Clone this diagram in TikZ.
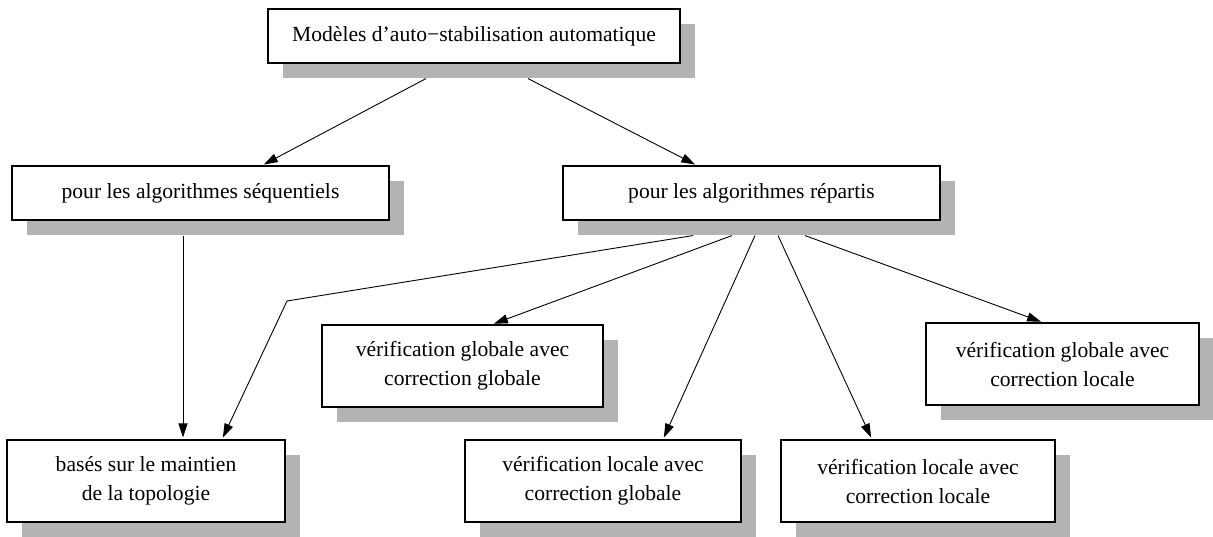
\documentclass[tikz,border=0pt]{standalone}
\usepackage{fontspec}
\setmainfont{Liberation Serif}
\usetikzlibrary{arrows.meta,calc,shadows}
\definecolor{shadowgray}{RGB}{179,179,179}
\begin{document}
\begin{tikzpicture}[x=1pt,y=-1pt,
  box/.style={draw, fill=white, line width=1.1pt, inner sep=0pt, align=center,
    font=\fontsize{21.6}{29}\selectfont,
    drop shadow={shadow xshift=15pt, shadow yshift=-15pt, fill=shadowgray, opacity=1}},
  link/.style={line width=0.9pt, -{Triangle[length=14pt,width=9pt]}, shorten >=2pt}]
\useasboundingbox (0,0) rectangle (1213,536);

% boxes
\node[box, minimum width=412pt, minimum height=54pt] (top) at (474,36)
  {Modèles d’auto−stabilisation automatique};
\node[box, minimum width=377pt, minimum height=54pt] (seq) at (200.5,193)
  {pour les algorithmes séquentiels};
\node[box, minimum width=377pt, minimum height=54pt] (rep) at (751.5,193)
  {pour les algorithmes répartis};
\node[box, minimum width=278pt, minimum height=82pt] (bases) at (146,481)
  {basés sur le maintien\\de la topologie};
\node[box, minimum width=281pt, minimum height=82pt] (gg) at (462.5,366)
  {vérification globale avec\\correction globale};
\node[box, minimum width=276pt, minimum height=82pt] (lg) at (603,481)
  {vérification locale avec\\correction globale};
\node[box, minimum width=274pt, minimum height=82pt] (ll) at (918,481)
  {vérification locale avec\\correction locale};
\node[box, minimum width=273pt, minimum height=82pt] (gl) at (1062.5,364)
  {vérification globale avec\\correction locale};

% connectors
\coordinate (bend) at (287,301);
\draw[link] ($(top.south)+(-48,15)$) -- ($(seq.north)+(61.5,0)$);
\draw[link] ($(top.south)+(54,15)$) -- ($(rep.north)+(-54.5,0)$);
\draw[link] ($(seq.south)+(-17.5,15)$) -- ($(bases.north)+(37,0)$);
\draw[link] ($(rep.south)+(-58.5,15)$) -- (bend) -- ($(bases.north)+(76,0)$);
\draw[link] ($(rep.south)+(-19.5,15)$) -- ($(gg.north)+(29.5,0)$);
\draw[link] ($(rep.south)+(3.5,15)$) -- ($(lg.north)+(60,0)$);
\draw[link] ($(rep.south)+(26.5,15)$) -- ($(ll.north)+(-46,0)$);
\draw[link] ($(rep.south)+(53.5,15)$) -- ($(gl.north)+(-19.5,0)$);
\end{tikzpicture}
\end{document}
